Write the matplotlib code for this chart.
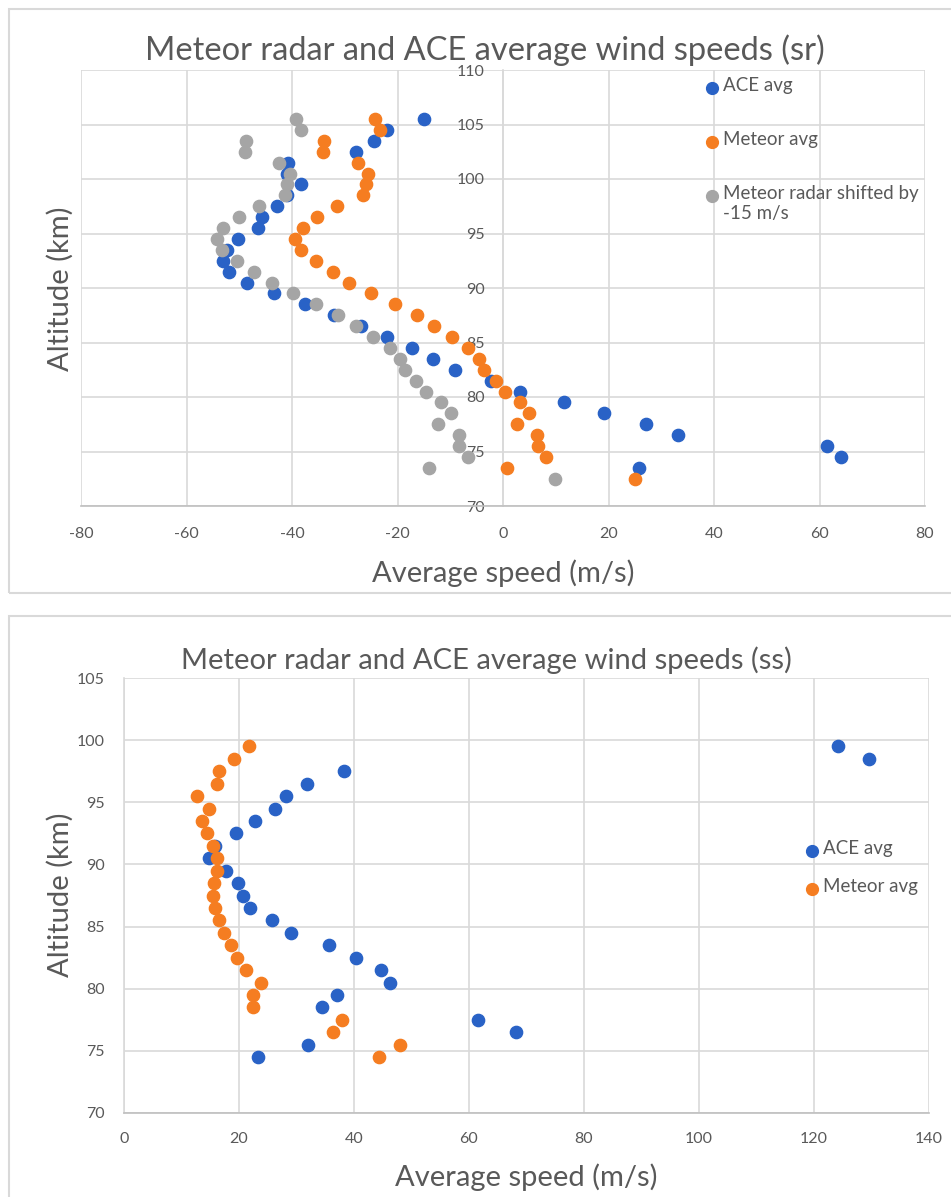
import matplotlib.pyplot as plt
from matplotlib.lines import Line2D

# altitudes (km), one point every km
alt_top = [105.5, 104.5, 103.5, 102.5, 101.5, 100.5, 99.5, 98.5, 97.5, 96.5, 95.5, 94.5,
           93.5, 92.5, 91.5, 90.5, 89.5, 88.5, 87.5, 86.5, 85.5, 84.5, 83.5, 82.5,
           81.5, 80.5, 79.5, 78.5, 77.5, 76.5, 75.5, 74.5, 73.5, 72.5]
ace_sr = [-15.0, -22.0, -24.5, -27.8, -40.8, -41.0, -38.2, -40.9, -42.9, -45.7, -46.5, -50.3,
          -52.3, -53.1, -51.9, -48.6, -43.4, -37.5, -32.1, -26.9, -22.0, -17.2, -13.2, -9.1,
          -2.2, 3.3, 11.5, 19.2, 27.1, 33.2, 61.5, 64.0, 25.8]          # no value at 72.5
meteor_sr = [-24.2, -23.3, -34.0, -34.2, -27.4, -25.6, -25.9, -26.5, -31.4, -35.2, -38.0, -39.4,
             -38.2, -35.5, -32.2, -29.1, -25.0, -20.4, -16.3, -13.1, -9.7, -6.6, -4.5, -3.6,
             -1.4, 0.45, 3.3, 4.9, 2.7, 6.4, 6.6, 8.2, 0.8, 25.0]
shifted_sr = [-39.3, -38.2, -48.7, -49.0, -42.5, -40.4, -41.0, -41.4, -46.3, -50.1, -53.1, -54.3,
              -53.3, -50.4, -47.2, -43.8, -39.9, -35.4, -31.2, -27.8, -24.7, -21.5, -19.6, -18.5,
              -16.5, -14.6, -11.8, -9.9, -12.4, -8.3, -8.3, -6.6, -14.0, 9.9]

alt_bot = [99.5, 98.5, 97.5, 96.5, 95.5, 94.5, 93.5, 92.5, 91.5, 90.5, 89.5, 88.5, 87.5,
           86.5, 85.5, 84.5, 83.5, 82.5, 81.5, 80.5, 79.5, 78.5, 77.5, 76.5, 75.5, 74.5]
ace_ss = [124.2, 129.6, 38.3, 31.8, 28.2, 26.3, 22.8, 19.4, 15.8, 14.7, 17.7, 19.8, 20.7,
          21.9, 25.7, 29.1, 35.7, 40.3, 44.7, 46.3, 37.0, 34.5, 61.6, 68.1, 32.0, 23.3]
meteor_ss = [21.7, 19.2, 16.6, 16.2, 12.7, 14.7, 13.5, 14.5, 15.5, 16.2, 16.2, 15.7, 15.5,
             15.9, 16.5, 17.4, 18.6, 19.6, 21.3, 23.8, 22.5, 22.5, 37.9, 36.3, 48.0, 44.3]

BLUE = '#2962C6'
ORANGE = '#F57D21'
GREY = '#A5A5A5'
TXT = '#595959'
GRID = '#D9D9D9'

plt.rcParams['font.family'] = ['Lato', 'DejaVu Sans']
plt.rcParams['axes.unicode_minus'] = False      # excel shows a plain hyphen

W, H = 951, 1197
fig = plt.figure(figsize=(W / 100, H / 100), dpi=100)

def fx(px):   # pixel -> figure fraction
    return px / W

def fy(py):
    return 1 - py / H

# chart frames
fig.add_artist(plt.Rectangle((fx(9), fy(593)), 1, fy(9) - fy(593), fill=False,
                             edgecolor=GRID, lw=1.5, transform=fig.transFigure))
fig.add_artist(plt.Rectangle((fx(9), fy(1205)), 1, fy(616) - fy(1205), fill=False,
                             edgecolor=GRID, lw=1.5, transform=fig.transFigure))


def style(ax, pad_y, pad_x):
    ax.grid(True, color=GRID, lw=1.2)
    ax.set_axisbelow(True)
    for s in ['top', 'right']:
        ax.spines[s].set_visible(False)
    ax.spines['left'].set_color(GRID)
    ax.spines['bottom'].set_color('#BFBFBF')
    ax.spines['left'].set_linewidth(1.2)
    ax.spines['bottom'].set_linewidth(1.2)
    ax.tick_params(length=0, labelsize=11.5, labelcolor=TXT)
    ax.tick_params(axis='y', pad=pad_y)
    ax.tick_params(axis='x', pad=pad_x)


def legend(entries, x, ys, size):
    for (label, col), y in zip(entries, ys):
        fig.add_artist(Line2D([fx(x)], [fy(y)], marker='o', ms=8.5, color=col, lw=0,
                              transform=fig.transFigure))
        fig.text(fx(x + 11), fy(y - 11), label, fontsize=size, color=TXT, va='top',
                 ha='left', linespacing=1.25)


# ---------- top chart (sr) ----------
ax1 = fig.add_axes([fx(81), fy(506), fx(925) - fx(81), fy(70) - fy(506)])
ax1.scatter(ace_sr, alt_top[:len(ace_sr)], s=78, color=BLUE, zorder=3)
ax1.scatter(meteor_sr, alt_top, s=78, color=ORANGE, zorder=3)
ax1.scatter(shifted_sr, alt_top, s=78, color=GREY, zorder=3)
ax1.set_xlim(-80, 80)
ax1.set_ylim(70, 110)
ax1.set_xticks(range(-80, 81, 20))
ax1.set_yticks(range(70, 111, 5))
ax1.spines['left'].set_position(('data', 0))
style(ax1, 13, 15)

fig.text(fx(485), fy(60), 'Meteor radar and ACE average wind speeds (sr)', fontsize=23.5,
         color=TXT, ha='center', va='baseline')
fig.text(fx(503), fy(573), 'Average speed (m/s)', fontsize=21, color=TXT, ha='center', va='center')
fig.text(fx(60), fy(289), 'Altitude (km)', fontsize=21, color=TXT, ha='center', va='center',
         rotation=90)
legend([('ACE avg', BLUE), ('Meteor avg', ORANGE),
        ('Meteor radar shifted by\n-15 m/s', GREY)], 712, [88, 142, 196], 13.5)

# ---------- bottom chart (ss) ----------
ax2 = fig.add_axes([fx(124), fy(1113), fx(929) - fx(124), fy(678) - fy(1113)])
ax2.scatter(ace_ss, alt_bot, s=78, color=BLUE, zorder=3)
ax2.scatter(meteor_ss, alt_bot, s=78, color=ORANGE, zorder=3)
ax2.set_xlim(0, 140)
ax2.set_ylim(70, 105)
ax2.set_xticks(range(0, 141, 20))
ax2.set_yticks(range(70, 106, 5))
style(ax2, 14, 14)

fig.text(fx(486), fy(669), 'Meteor radar and ACE average wind speeds (ss)', fontsize=21,
         color=TXT, ha='center', va='baseline')
fig.text(fx(526), fy(1177), 'Average speed (m/s)', fontsize=21, color=TXT, ha='center', va='center')
fig.text(fx(60), fy(895), 'Altitude (km)', fontsize=21, color=TXT, ha='center', va='center',
         rotation=90)
legend([('ACE avg', BLUE), ('Meteor avg', ORANGE)], 812, [851, 889], 13.5)

plt.savefig('out.png', dpi=100)
